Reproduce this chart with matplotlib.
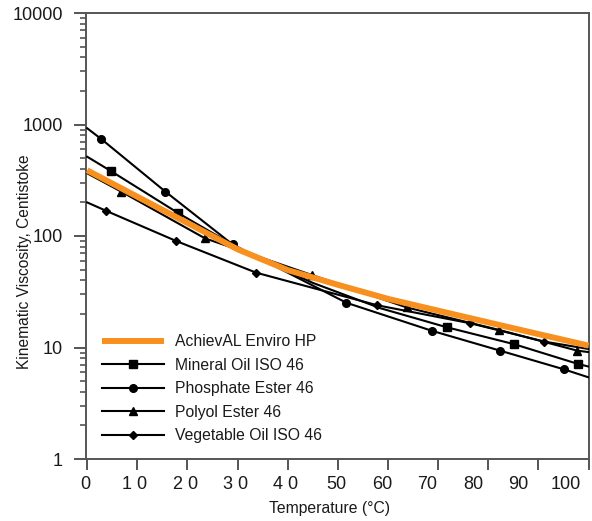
import matplotlib
matplotlib.use("Agg")
import matplotlib.pyplot as plt
from matplotlib.ticker import NullFormatter, LogLocator

plt.rcParams['font.family'] = ['Liberation Sans', 'DejaVu Sans']

# valeurs (température en °C, viscosité en cSt)
temp_enviro = [0, 10, 20, 30, 40, 50, 60, 70, 80, 90, 100]
visc_enviro = [388, 225, 131, 76, 49.5, 36.5, 27.3, 21.4, 16.8, 13.2, 10.4]

temp_mineral = [0, 4.7, 18.2, 31.5, 45, 58.5, 71.7, 85.2, 98, 100]
visc_mineral = [514, 383, 160, 72, 38, 22.5, 15.2, 10.7, 7.1, 6.75]

temp_phosphate = [0, 2.8, 15.6, 29, 51.7, 68.8, 82.4, 95.1, 100]
visc_phosphate = [925, 741, 250, 84, 25.2, 14.1, 9.36, 6.37, 5.4]

temp_polyol = [0, 6.8, 23.5, 44.8, 63.7, 82.1, 97.8, 100]
visc_polyol = [365, 250, 95.3, 44.7, 22.9, 14.4, 9.36, 9.1]

temp_veg = [0, 3.8, 17.8, 33.7, 57.9, 76.4, 91.2, 100]
visc_veg = [200, 168, 90, 46.9, 23.9, 16.5, 11.3, 9.7]

x_ticks = [0, 10, 20, 30, 40, 50, 60, 70, 80, 90, 100]
# les libellés de l'axe x sont légèrement décalés par rapport aux graduations
x_label_pos = [-0.3, 9.4, 19.7, 29.6, 39.6, 49.7, 58.9, 67.9, 77.0, 86.0, 95.4]
x_labels = ["0", "1 0", "2 0", "3 0", "4 0", "50", "60", "70", "80", "90", "100"]
y_ticks = [1, 10, 100, 1000, 10000]
y_labels = ["1", "10", "100", "1000", "10000"]

gris = '#555555'
texte = '#1a1a1a'

fig = plt.figure(figsize=(5.92, 5.21), dpi=100)
ax = fig.add_axes([85.7/592, 62/521, (588.5-85.7)/592, (459-13)/521])

# (x, y, marqueur, taille, points marqués, nom)
series = [
    (temp_mineral, visc_mineral, 's', 5.5, [1, 2, 6, 7, 8], "Mineral Oil ISO 46"),
    (temp_phosphate, visc_phosphate, 'o', 5.5, [1, 2, 3, 4, 5, 6, 7], "Phosphate Ester 46"),
    (temp_polyol, visc_polyol, '^', 5.5, [1, 2, 3, 4, 5, 6], "Polyol Ester 46"),
    (temp_veg, visc_veg, 'D', 4.5, [1, 2, 3, 4, 5, 6], "Vegetable Oil ISO 46"),
]

h_env, = ax.plot(temp_enviro, visc_enviro, color='#f7901e', lw=4.3, zorder=5,
                 solid_capstyle='butt', label="AchievAL Enviro HP")
handles = [h_env]
for tx, vy, mk, ms, idx, lab in series:
    h, = ax.plot(tx, vy, color='black', lw=1.5, marker=mk, ms=ms,
                 markevery=idx, label=lab, zorder=3)
    handles.append(h)

ax.set_yscale('log')
ax.set_ylim(1, 10000)
ax.set_xlim(0, 100)

ax.set_yticks(y_ticks)
ax.set_yticklabels(y_labels)
ax.yaxis.set_minor_locator(LogLocator(base=10, subs=range(2, 10)))
ax.yaxis.set_minor_formatter(NullFormatter())

ax.set_xticks(x_ticks)
ax.set_xticklabels([""] * len(x_ticks))
ax.set_xticks(x_label_pos, minor=True)
ax.set_xticklabels(x_labels, minor=True)

for s in ax.spines.values():
    s.set_color(gris)
    s.set_linewidth(1.4)

ax.tick_params(axis='y', which='major', length=8.6, width=1.4, color=gris,
               pad=8, labelsize=13, labelcolor=texte, direction='out')
ax.tick_params(axis='y', which='minor', length=4.3, width=1.2, color=gris, direction='out')
ax.tick_params(axis='x', which='major', length=8, width=1.4, color=gris, direction='out')
ax.tick_params(axis='x', which='minor', length=0, pad=12.5, labelsize=13, labelcolor=texte)

ax.set_xlabel("Temperature (°C)", fontsize=11.3, color=texte)
ax.xaxis.set_label_coords(0.485, -0.095)
ax.set_ylabel("Kinematic Viscosity, Centistoke", fontsize=11.2, color=texte)
ax.yaxis.set_label_coords(-0.107, 0.442)

ax.legend(handles=handles, loc='lower left', bbox_to_anchor=(0.032, 0.035),
          frameon=False, fontsize=11.3, handlelength=3.95, handletextpad=0.74,
          labelspacing=0.54, borderpad=0, borderaxespad=0, numpoints=1,
          labelcolor=texte)

fig.savefig("out.png", dpi=100)
